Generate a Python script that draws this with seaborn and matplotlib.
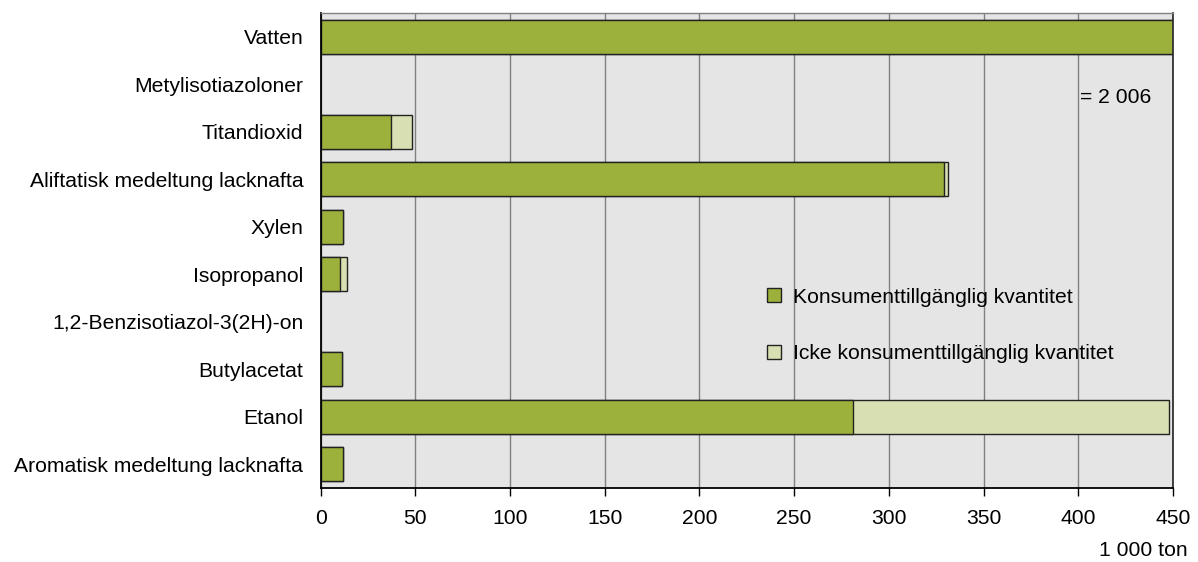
import matplotlib
matplotlib.use("Agg")
import matplotlib.pyplot as plt
import seaborn as sns
import pandas as pd
from matplotlib.lines import Line2D

categories = [
    "Vatten",
    "Metylisotiazoloner",
    "Titandioxid",
    "Aliftatisk medeltung lacknafta",
    "Xylen",
    "Isopropanol",
    "1,2-Benzisotiazol-3(2H)-on",
    "Butylacetat",
    "Etanol",
    "Aromatisk medeltung lacknafta",
]
konsument = [2006, 0, 37, 329, 12, 10, 0, 11, 281, 12]
icke_konsument = [0, 0, 11, 2, 0, 4, 0, 0, 167, 0]
xticks = [0, 50, 100, 150, 200, 250, 300, 350, 400, 450]
label_konsument = "Konsumenttillgänglig kvantitet"
label_icke = "Icke konsumenttillgänglig kvantitet"
vatten_note = "= 2 006"
unit_label = "1 000 ton"

GREEN = "#9bb13c"
LIGHT = "#d8e0b3"
FS = 15.2

sns.set_theme(style="white")
plt.rcParams["font.family"] = ["Liberation Sans", "DejaVu Sans"]
plt.rcParams["text.color"] = "black"

df = pd.DataFrame({
    "kategori": categories,
    "konsument": konsument,
    "total": [a + b for a, b in zip(konsument, icke_konsument)],
})

fig, ax = plt.subplots(figsize=(11.98, 5.62), dpi=100)
fig.subplots_adjust(left=0.2677, right=0.9791, top=0.9769, bottom=0.1317)
ax.set_facecolor("#e5e5e5")

sns.barplot(data=df, y="kategori", x="total", orient="h", color=LIGHT,
            saturation=1, width=0.72, edgecolor="#222222", linewidth=1.0,
            ax=ax, zorder=3)
sns.barplot(data=df, y="kategori", x="konsument", orient="h", color=GREEN,
            saturation=1, width=0.72, edgecolor="#222222", linewidth=1.0,
            ax=ax, zorder=4)

# hide outlines of empty (zero-length) bars
for p in ax.patches:
    if p.get_width() == 0:
        p.set_linewidth(0)

ax.set_xlim(0, 450)
ax.set_xticks(xticks)
ax.set_xticklabels([str(t) for t in xticks])
ax.set_xlabel("")
ax.set_ylabel("")
ax.xaxis.grid(True, color="#808080", linewidth=1.0, zorder=1)
ax.yaxis.grid(False)
ax.set_axisbelow(True)

ax.tick_params(axis="x", which="both", bottom=True, length=6, width=1,
               color="black", labelsize=FS, pad=9, labelcolor="black")
ax.tick_params(axis="y", which="both", left=False, length=0,
               labelsize=FS, pad=12.5, labelcolor="black")

for side in ["left", "bottom"]:
    ax.spines[side].set_color("black")
    ax.spines[side].set_linewidth(1.3)
ax.spines["top"].set_color("#808080")
ax.spines["top"].set_linewidth(1.0)
ax.spines["right"].set_color("#222222")
ax.spines["right"].set_linewidth(1.2)
for s in ax.spines.values():
    s.set_zorder(6)

ax.text(0.975, 0.823, vatten_note, transform=ax.transAxes, ha="right",
        va="center", fontsize=FS, color="black", zorder=7)

handles = [
    Line2D([], [], marker="s", linestyle="", markersize=10,
           markerfacecolor=GREEN, markeredgecolor="#222222", markeredgewidth=1),
    Line2D([], [], marker="s", linestyle="", markersize=10,
           markerfacecolor=LIGHT, markeredgecolor="#222222", markeredgewidth=1),
]
leg = ax.legend(handles, [label_konsument, label_icke], loc="center left",
                bbox_to_anchor=(0.5235, 0.342), frameon=False, fontsize=FS,
                handlelength=0.66, handletextpad=0.56, labelspacing=1.78,
                borderpad=0, borderaxespad=0, labelcolor="black")
leg.set_zorder(7)

fig.text(1188 / 1198, 1 - 550 / 562, unit_label, ha="right", va="center",
         fontsize=FS, color="black")

fig.savefig("out.png", dpi=100, facecolor="white")
